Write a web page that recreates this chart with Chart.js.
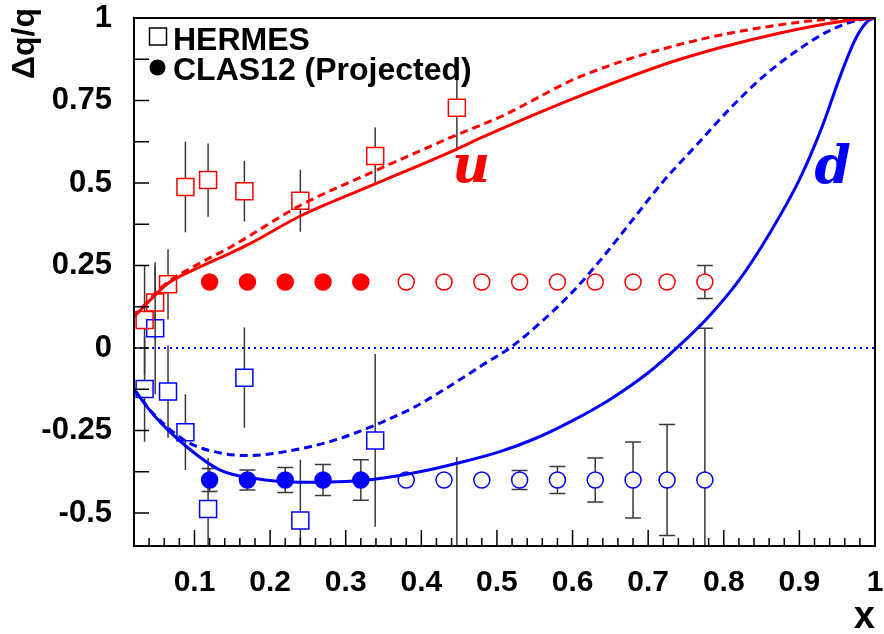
<!DOCTYPE html>
<html lang="en">
<head>
<meta charset="UTF-8" />
<title>Δq/q vs x</title>
<script src="https://cdn.jsdelivr.net/npm/chart.js"></script>
<style>
  body { margin: 0; background: white; }
  #chart { display: block; }
</style>
</head>
<body>
<canvas id="chart" width="884" height="634"></canvas>
<script>
// HERMES (open squares)
const hermesX    = [0.034, 0.048, 0.065, 0.088, 0.118, 0.166, 0.24, 0.339, 0.447];
const hermesU    = [0.085, 0.138, 0.193, 0.488, 0.509, 0.475, 0.446, 0.582, 0.728];
const hermesUErr = [0.166, 0.113, 0.106, 0.137, 0.111, 0.092, 0.094, 0.086, 0.125];
const hermesD    = [-0.124, 0.06, -0.132, -0.255, -0.488, -0.09, -0.523, -0.28, -0.75];
const hermesDErr = [0.16, 0.2, 0.14, 0.115, 0.155, 0.152, 0.184, 0.262, 0.42];

// CLAS12 projections (first five filled, rest open)
const clasX    = [0.12, 0.17, 0.22, 0.27, 0.32, 0.38, 0.43, 0.48, 0.53, 0.58, 0.63, 0.68, 0.725, 0.775];
const clasU    = [0.2, 0.2, 0.2, 0.2, 0.2, 0.2, 0.2, 0.2, 0.2, 0.2, 0.2, 0.2, 0.2, 0.2];
const clasUErr = [0.005, 0.005, 0.005, 0.005, 0.005, 0.006, 0.007, 0.008, 0.01, 0.012, 0.015, 0.018, 0.022, 0.05];
const clasD    = [-0.4, -0.4, -0.4, -0.4, -0.4, -0.4, -0.4, -0.4, -0.4, -0.4, -0.4, -0.4, -0.4, -0.4];
const clasDErr = [0.035, 0.03, 0.038, 0.047, 0.061, 0.015, 0.018, 0.022, 0.029, 0.041, 0.067, 0.115, 0.168, 0.46];
const clasFilled = 5;

// model curves
const uSolidX  = [0.02, 0.048, 0.065, 0.103, 0.147, 0.174, 0.24, 0.339, 0.447, 0.477, 0.61, 0.742, 0.873, 0.962, 1.0];
const uSolidY  = [0.095, 0.16, 0.196, 0.241, 0.287, 0.317, 0.40, 0.497, 0.603, 0.635, 0.764, 0.875, 0.954, 0.992, 1.0];
const uDashX   = [0.02, 0.048, 0.065, 0.103, 0.147, 0.24, 0.339, 0.447, 0.504, 0.61, 0.742, 0.873, 0.962, 1.0];
const uDashY   = [0.095, 0.165, 0.2, 0.252, 0.305, 0.432, 0.537, 0.646, 0.70, 0.822, 0.92, 0.979, 0.999, 1.0];
const dSolidX  = [0.02, 0.046, 0.09, 0.134, 0.178, 0.24, 0.328, 0.398, 0.446, 0.504, 0.55, 0.6, 0.65, 0.7, 0.74, 0.78, 0.82, 0.86, 0.9, 0.93, 0.955, 0.975, 0.99, 1.0];
const dSolidY  = [-0.125, -0.203, -0.30, -0.37, -0.395, -0.407, -0.40, -0.375, -0.35, -0.314, -0.275, -0.22, -0.155, -0.075, 0.005, 0.095, 0.205, 0.345, 0.51, 0.67, 0.83, 0.94, 0.99, 1.0];
const dDashX   = [0.02, 0.046, 0.09, 0.134, 0.17, 0.22, 0.28, 0.33, 0.39, 0.44, 0.48, 0.52, 0.56, 0.6, 0.64, 0.68, 0.72, 0.764, 0.808, 0.852, 0.896, 0.94, 0.975, 1.0];
const dDashY   = [-0.125, -0.20, -0.284, -0.318, -0.326, -0.314, -0.283, -0.242, -0.18, -0.112, -0.053, 0.005, 0.082, 0.17, 0.275, 0.39, 0.505, 0.615, 0.725, 0.822, 0.90, 0.962, 0.992, 1.0];
const zeroX    = [0.02, 1.0];
const zeroY    = [0, 0];

// axes
const xTickValues = [0.1, 0.2, 0.3, 0.4, 0.5, 0.6, 0.7, 0.8, 0.9, 1.0];
const xTickLabels = ['0.1', '0.2', '0.3', '0.4', '0.5', '0.6', '0.7', '0.8', '0.9', '1'];
const yTickValues = [-0.5, -0.25, 0, 0.25, 0.5, 0.75, 1.0];
const yTickLabels = ['-0.5', '-0.25', '0', '0.25', '0.5', '0.75', '1'];

const RED = '#ff0000';
const BLUE = '#0000ff';
const BAR = '#3a3a3a';
const FONT = '"Liberation Sans", Arial, sans-serif';
const PLOT_RIGHT = 875;

const pts = (xs, ys) => xs.map((x, i) => ({ x: x, y: ys[i] }));

function curve(xs, ys, color, dash) {
  return {
    type: 'line', data: pts(xs, ys), borderColor: color, borderWidth: 3,
    borderDash: dash, pointRadius: 0, cubicInterpolationMode: 'monotone', fill: false
  };
}

function drawErrors(chart, xs, ys, errs, gap, cap) {
  const ctx = chart.ctx, sx = chart.scales.x, sy = chart.scales.y;
  ctx.beginPath();
  xs.forEach((xv, i) => {
    const px = sx.getPixelForValue(xv);
    const py = sy.getPixelForValue(ys[i]);
    const top = sy.getPixelForValue(ys[i] + errs[i]);
    const bot = sy.getPixelForValue(ys[i] - errs[i]);
    if (top < py - gap) {
      ctx.moveTo(px, top); ctx.lineTo(px, py - gap);
      if (cap) { ctx.moveTo(px - cap, top); ctx.lineTo(px + cap, top); }
    }
    if (bot > py + gap) {
      ctx.moveTo(px, py + gap); ctx.lineTo(px, bot);
      if (cap) { ctx.moveTo(px - cap, bot); ctx.lineTo(px + cap, bot); }
    }
  });
  ctx.stroke();
}

// the x axis keeps room for its last label; pin the plot's right edge instead
const pinRight = {
  id: 'pinRight',
  afterLayout(chart) {
    const a = chart.chartArea, sx = chart.scales.x;
    a.right = PLOT_RIGHT; a.width = a.right - a.left;
    sx.right = PLOT_RIGHT; sx.width = sx.right - sx.left;
    sx.configure();
  }
};

const errorBars = {
  id: 'errorBars',
  beforeDatasetsDraw(chart) {
    const ctx = chart.ctx, a = chart.chartArea;
    ctx.save();
    ctx.beginPath();
    ctx.rect(a.left, a.top, a.right - a.left, a.bottom - a.top);
    ctx.clip();
    ctx.strokeStyle = BAR;
    ctx.lineWidth = 1.5;
    drawErrors(chart, hermesX, hermesU, hermesUErr, 8.5, 0);
    drawErrors(chart, hermesX, hermesD, hermesDErr, 8.5, 0);
    drawErrors(chart, clasX, clasU, clasUErr, 8, 8);
    drawErrors(chart, clasX, clasD, clasDErr, 8, 8);
    ctx.restore();
  }
};

const frameAndText = {
  id: 'frameAndText',
  afterDraw(chart) {
    const ctx = chart.ctx, a = chart.chartArea, sx = chart.scales.x, sy = chart.scales.y;
    ctx.save();
    ctx.strokeStyle = '#000';
    ctx.lineWidth = 1.5;
    ctx.beginPath();
    // x ticks, inside
    for (let k = 2; k <= 100; k += 2) {
      const px = sx.getPixelForValue(k / 100);
      const len = k % 10 === 0 ? 16 : 8;
      ctx.moveTo(px, a.bottom); ctx.lineTo(px, a.bottom - len);
    }
    // y ticks, inside
    for (let k = -4; k <= 8; k++) {
      const py = sy.getPixelForValue(k * 0.125);
      ctx.moveTo(a.left, py); ctx.lineTo(a.left + 15, py);
    }
    ctx.stroke();
    ctx.lineWidth = 2;
    ctx.strokeRect(a.left, a.top, a.right - a.left, a.bottom - a.top);

    // axis titles
    ctx.fillStyle = '#000';
    ctx.font = 'bold 38px ' + FONT;
    ctx.textAlign = 'right';
    ctx.textBaseline = 'alphabetic';
    ctx.fillText('x', a.right, 628);
    ctx.save();
    ctx.translate(34, 8);
    ctx.rotate(-Math.PI / 2);
    ctx.font = 'bold 32px ' + FONT;
    ctx.textAlign = 'right';
    ctx.fillText('Δq/q', 0, 0);
    ctx.restore();

    // legend
    ctx.lineWidth = 1.5;
    ctx.strokeStyle = '#000';
    ctx.strokeRect(149.5, 28, 17, 17);
    ctx.beginPath();
    ctx.arc(157.5, 67.5, 8, 0, Math.PI * 2);
    ctx.fill();
    ctx.font = 'bold 32px ' + FONT;
    ctx.textAlign = 'left';
    ctx.fillText('HERMES', 173, 50);
    ctx.fillText('CLAS12 (Projected)', 173, 80);

    // curve labels
    ctx.font = 'bold italic 52px "DejaVu Serif", serif';
    ctx.textAlign = 'center';
    ctx.fillStyle = RED;
    ctx.fillText('u', sx.getPixelForValue(0.466), sy.getPixelForValue(0.503));
    ctx.fillStyle = BLUE;
    ctx.fillText('d', sx.getPixelForValue(0.944), sy.getPixelForValue(0.50));
    ctx.restore();
  }
};

const hollowOrFilled = color => c => c.dataIndex < clasFilled ? color : 'rgba(0,0,0,0)';
const noPad = s => { s.paddingTop = 0; s.paddingBottom = 0; s.paddingLeft = 0; s.paddingRight = 0; };

new Chart(document.getElementById('chart'), {
  type: 'scatter',
  data: {
    datasets: [
      { label: 'HERMES u', data: pts(hermesX, hermesU), pointStyle: 'rect', pointRadius: 12,
        borderColor: RED, backgroundColor: 'rgba(0,0,0,0)', pointBorderWidth: 1.5 },
      { label: 'HERMES d', data: pts(hermesX, hermesD), pointStyle: 'rect', pointRadius: 12,
        borderColor: BLUE, backgroundColor: 'rgba(0,0,0,0)', pointBorderWidth: 1.5 },
      { label: 'CLAS12 u', data: pts(clasX, clasU), pointStyle: 'circle', pointRadius: 8,
        borderColor: RED, backgroundColor: hollowOrFilled(RED), pointBorderWidth: 1.5 },
      { label: 'CLAS12 d', data: pts(clasX, clasD), pointStyle: 'circle', pointRadius: 8,
        borderColor: BLUE, backgroundColor: hollowOrFilled(BLUE), pointBorderWidth: 1.5 },
      curve(uSolidX, uSolidY, RED, []),
      curve(uDashX, uDashY, RED, [8, 5]),
      curve(dSolidX, dSolidY, BLUE, []),
      curve(dDashX, dDashY, BLUE, [8, 5]),
      Object.assign(curve(zeroX, zeroY, BLUE, [2, 4]), { borderWidth: 2, cubicInterpolationMode: 'default' })
    ]
  },
  options: {
    responsive: false,
    animation: false,
    layout: { padding: { left: 0, right: 9, top: 18, bottom: 0 } },
    plugins: { legend: { display: false }, tooltip: { enabled: false } },
    scales: {
      x: {
        type: 'linear', min: 0.02, max: 1,
        grid: { display: false, drawTicks: false }, border: { display: false },
        afterBuildTicks: s => { s.ticks = xTickValues.map(v => ({ value: v })); },
        afterFit: s => { s.height = 88; noPad(s); },
        ticks: {
          autoSkip: false, maxRotation: 0, padding: 19, color: '#000',
          font: { family: FONT, size: 30, weight: 'bold' },
          callback: (v, i) => xTickLabels[i]
        }
      },
      y: {
        type: 'linear', min: -0.6, max: 1,
        grid: { display: false, drawTicks: false }, border: { display: false },
        afterBuildTicks: s => { s.ticks = yTickValues.map(v => ({ value: v })); },
        afterFit: s => { s.width = 134; noPad(s); },
        ticks: {
          padding: 22, color: '#000',
          font: { family: FONT, size: 31, weight: 'bold' },
          callback: (v, i) => yTickLabels[i]
        }
      }
    }
  },
  plugins: [pinRight, errorBars, frameAndText]
});
</script>
</body>
</html>
